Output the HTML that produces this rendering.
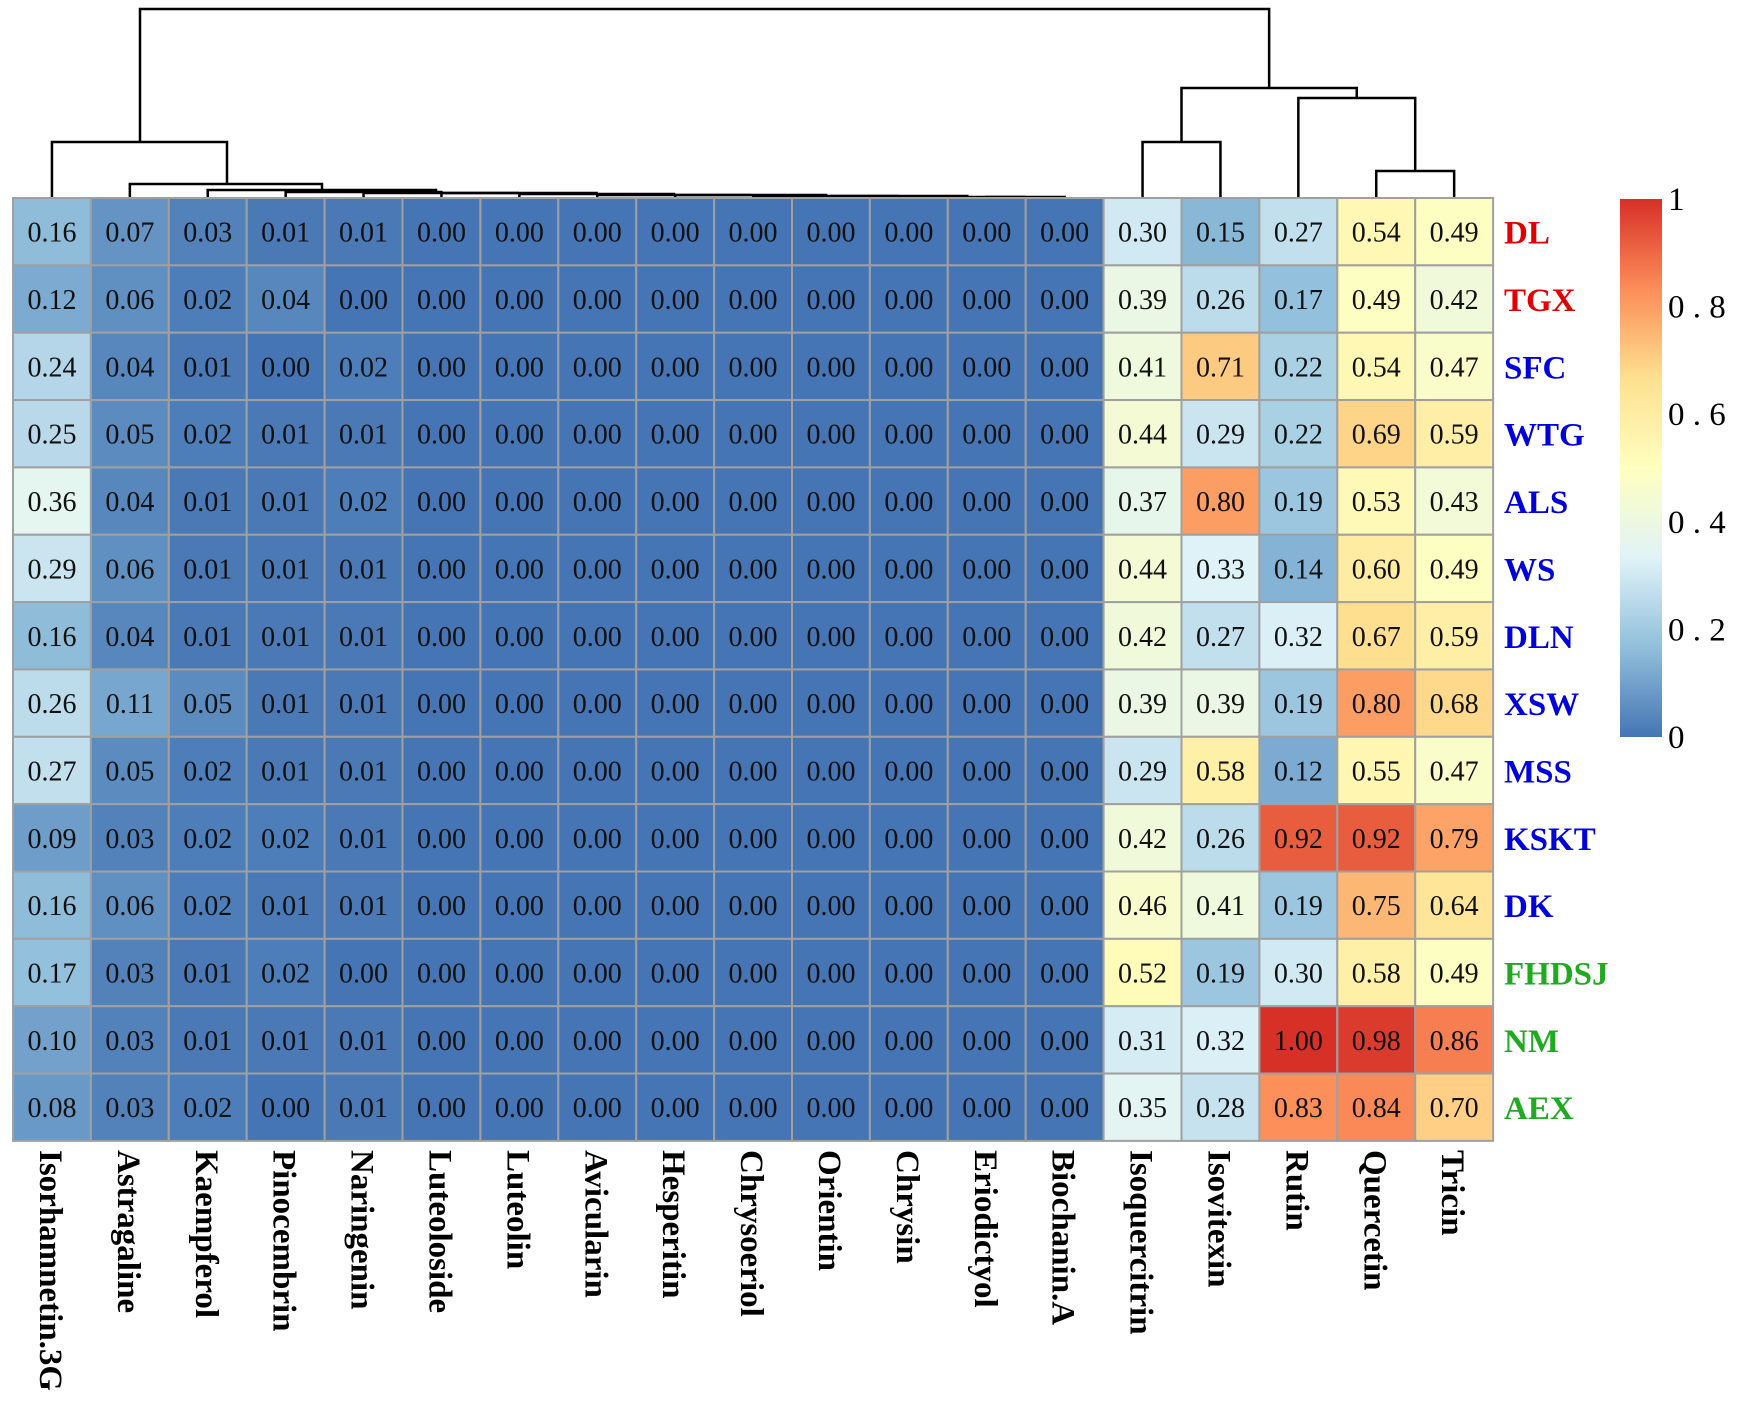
<!DOCTYPE html>
<html><head><meta charset="utf-8"><style>
html,body{margin:0;padding:0;background:#fff;}
svg{display:block;}
</style></head><body>
<svg id="chart" width="1737" height="1423" viewBox="0 0 1737 1423" xmlns="http://www.w3.org/2000/svg">
<defs>
<linearGradient id="lg" x1="0" y1="1" x2="0" y2="0">
<stop offset="0" stop-color="#4575B4"/>
<stop offset="0.1667" stop-color="#91BFDB"/>
<stop offset="0.3333" stop-color="#E0F3F8"/>
<stop offset="0.5" stop-color="#FFFFBF"/>
<stop offset="0.6667" stop-color="#FEE090"/>
<stop offset="0.8333" stop-color="#FC8D59"/>
<stop offset="1" stop-color="#D73027"/>
</linearGradient>
</defs>
<g id="dendro" stroke="#000" stroke-width="2.5" fill="none"></g>
<g id="cells"></g>
<g id="rowlabels"></g>
<g id="collabels"></g>
<g>
<rect x="1620" y="199" width="42" height="538" fill="url(#lg)"/>
<g id="legendticks" font-family="Liberation Serif, serif" font-size="33" fill="#000"></g>
</g>
</svg>
<script>
const rows = ["DL","TGX","SFC","WTG","ALS","WS","DLN","XSW","MSS","KSKT","DK","FHDSJ","NM","AEX"];
const rowColors = ["#e00000","#e00000","#0000dd","#0000dd","#0000dd","#0000dd","#0000dd","#0000dd","#0000dd","#0000dd","#0000dd","#1faa1f","#1faa1f","#1faa1f"];
const cols = ["Isorhamnetin.3G","Astragaline","Kaempferol","Pinocembrin","Naringenin","Luteoloside","Luteolin","Avicularin","Hesperitin","Chrysoeriol","Orientin","Chrysin","Eriodictyol","Biochanin.A","Isoquercitrin","Isovitexin","Rutin","Quercetin","Tricin"];
const z = "0.00,0.00,0.00,0.00,0.00,0.00,0.00,0.00,0.00".split(",").map(Number);
const values = [
[0.16,0.07,0.03,0.01,0.01,...z,0.30,0.15,0.27,0.54,0.49],
[0.12,0.06,0.02,0.04,0.00,...z,0.39,0.26,0.17,0.49,0.42],
[0.24,0.04,0.01,0.00,0.02,...z,0.41,0.71,0.22,0.54,0.47],
[0.25,0.05,0.02,0.01,0.01,...z,0.44,0.29,0.22,0.69,0.59],
[0.36,0.04,0.01,0.01,0.02,...z,0.37,0.80,0.19,0.53,0.43],
[0.29,0.06,0.01,0.01,0.01,...z,0.44,0.33,0.14,0.60,0.49],
[0.16,0.04,0.01,0.01,0.01,...z,0.42,0.27,0.32,0.67,0.59],
[0.26,0.11,0.05,0.01,0.01,...z,0.39,0.39,0.19,0.80,0.68],
[0.27,0.05,0.02,0.01,0.01,...z,0.29,0.58,0.12,0.55,0.47],
[0.09,0.03,0.02,0.02,0.01,...z,0.42,0.26,0.92,0.92,0.79],
[0.16,0.06,0.02,0.01,0.01,...z,0.46,0.41,0.19,0.75,0.64],
[0.17,0.03,0.01,0.02,0.00,...z,0.52,0.19,0.30,0.58,0.49],
[0.10,0.03,0.01,0.01,0.01,...z,0.31,0.32,1.00,0.98,0.86],
[0.08,0.03,0.02,0.00,0.01,...z,0.35,0.28,0.83,0.84,0.70]
];
const legendTicks = [0,0.2,0.4,0.6,0.8,1];
const legendTickLabels = ["0","0 . 2","0 . 4","0 . 6","0 . 8","1"];

const NS="http://www.w3.org/2000/svg";
const X0=13, Y0=198, CW=77.9, CH=67.35;
const stops=["#4575B4","#91BFDB","#E0F3F8","#FFFFBF","#FEE090","#FC8D59","#D73027"].map(h=>[1,3,5].map(i=>parseInt(h.substr(i,2),16)));
function color(v){v=Math.max(0,Math.min(1,v));const t=v*6,i=Math.min(5,Math.floor(t)),f=t-i;const a=stops[i],b=stops[i+1];return "rgb("+a.map((c,k)=>Math.round(c+(b[k]-c)*f)).join(",")+")";}
function xc(i){return X0+CW*(i+0.5);}
function yc(j){return Y0+CH*(j+0.5);}
function mk(tag,attrs,parent){const e=document.createElementNS(NS,tag);for(const k in attrs)e.setAttribute(k,attrs[k]);parent.appendChild(e);return e;}

const cells=document.getElementById("cells");
values.forEach((row,j)=>row.forEach((v,i)=>{
  const r=mk("rect",{x:X0+CW*i,y:Y0+CH*j,width:CW,height:CH,fill:color(v),stroke:"#a0a0a0","stroke-width":2},cells);
  
  
  const t=mk("text",{x:xc(i),y:yc(j)+10,"text-anchor":"middle","font-family":"Liberation Serif, serif","font-size":28,fill:"#111"},cells);
  t.textContent=v.toFixed(2);
  
  
}));
const rl=document.getElementById("rowlabels");
rows.forEach((r,j)=>{
  const t=mk("text",{x:1504,y:yc(j)+12,"font-family":"Liberation Serif, serif","font-size":33,"font-weight":"bold",fill:rowColors[j]},rl);
  t.textContent=r;
  
  
});
const cl=document.getElementById("collabels");
cols.forEach((c,i)=>{
  const t=mk("text",{transform:"translate("+(xc(i)-12)+",1150) rotate(90)","font-family":"Liberation Serif, serif","font-size":33,"font-weight":"bold",fill:"#000"},cl);
  t.textContent=c;
  
  
});
const lt=document.getElementById("legendticks");
legendTicks.forEach((v,k)=>{
  const t=mk("text",{x:1668,y:737-v*538+11},lt);
  t.textContent=legendTickLabels[k];
  
  
});
const d=document.getElementById("dendro");
function link(xl,xr,y,yl,yr){const p=mk("path",{d:`M${xl},${yl}V${y}H${xr}V${yr}`},d);}
const B=Y0;
let prevX=xc(13), prevY=B;
const hs=[197,197,196,196,195,195,194,193];
for(let i=12;i>=5;i--){const y=hs[12-i];link(xc(i),prevX,y,B,prevY);prevX=(xc(i)+prevX)/2;prevY=y;}
link(xc(4),prevX,193,B,prevY);let c4=(xc(4)+prevX)/2;
link(xc(3),c4,192,B,193);let c3=(xc(3)+c4)/2;
link(xc(2),436,190,B,192);
link(436,c3,192,192,192);
link(xc(1),322,184,B,190);
link(xc(0),227,142,B,184);
const c0=140;
link(xc(14),xc(15),142,B,B);
link(xc(17),xc(18),171,B,B);
link(xc(16),(xc(17)+xc(18))/2,98,B,171);
const r1=(xc(14)+xc(15))/2, r2=(xc(16)+(xc(17)+xc(18))/2)/2;
link(r1,r2,88,142,98);
link(c0,(r1+r2)/2,9,142,88);
</script>
</body></html>
